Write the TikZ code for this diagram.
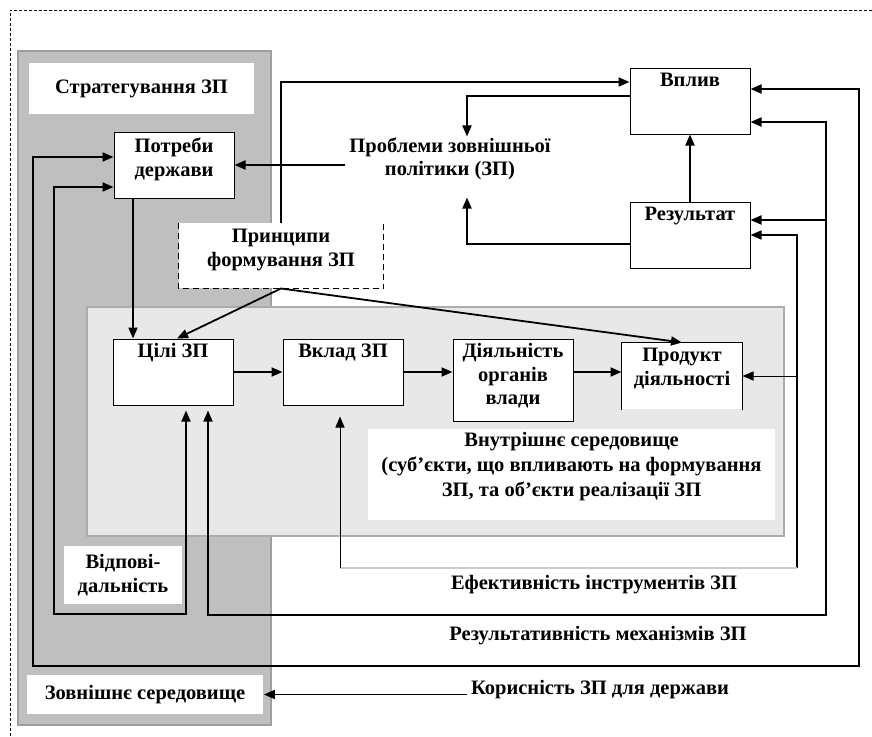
\documentclass[tikz,border=0pt]{standalone}
\usepackage{fontspec}
\setmainfont{Liberation Serif}
\usetikzlibrary{arrows.meta}

\begin{document}
\begin{tikzpicture}[->,>={Triangle[length=11pt,width=9pt]},x=1pt,y=-1pt,line width=1.8pt,
  font=\bfseries\fontsize{20.5}{23.5}\selectfont,
  panel/.style={line width=1.5pt},
  main node/.style={draw,fill=white,line width=1pt,minimum width=120pt,minimum height=66pt,align=center},
  open node/.style={main node,draw=none},
  toptext/.style 2 args={text height=#1,text depth=#2},
  plain node/.style={fill=white,align=center},
  text node/.style={align=center}]
\useasboundingbox (0,0) rectangle (872,736);
\draw[-,densely dashed,line width=0.8pt] (10,736) -- (10,10) -- (872,10);

% panels
  \node[panel,draw=gray!75,fill=gray!50,minimum width=253pt,minimum height=674pt] (stratpanel) at (144.5,388) {};
  \node[plain node,minimum width=225pt,minimum height=51pt] (strat) at (141.5,88.5) {Стратегування ЗП};
  \node[panel,draw=gray!65,fill=gray!18,minimum width=697pt,minimum height=229pt] (vnutrpanel) at (435.5,421.5) {};

% top part
  \node[main node,toptext={37.5pt}{14.8pt}] (potreby) at (174,165) {Потреби\\держави};
  \node[text node] (problemy) at (450,159) {Проблеми зовнішньої\\політики (ЗП)};
  \node[open node,minimum width=204pt,minimum height=65pt,toptext={36.5pt}{14.8pt}] (pryntsypy) at (281,255.5) {Принципи\\формування ЗП};
  \draw[-,line width=1pt,dash pattern=on 6pt off 4pt] (pryntsypy.north west) |- (pryntsypy.south east) -- (pryntsypy.north east);
  \node[main node,toptext={12pt}{40.3pt}] (vplyv) at (690,101) {Вплив};
  \node[main node,toptext={12pt}{40.3pt}] (rezultat) at (690,235) {Результат};

% inner environment
  \node[main node,toptext={12pt}{40.3pt}] (tsili) at (173,372) {Цілі ЗП};
  \node[main node,toptext={12pt}{40.3pt}] (vklad) at (343,372) {Вклад ЗП};
  \node[main node,minimum height=82pt,toptext={59pt}{9.3pt}] (diialnist) at (513,380) {Діяльність\\органів\\влади};
  \node[open node,toptext={35.5pt}{16.8pt}] (produkt) at (682,376) {Продукт\\діяльності};
  \draw[-,line width=1pt] (produkt.south west) |- (produkt.north east) -- (produkt.south east);
  \node[plain node,minimum width=407pt,minimum height=91pt,toptext={61pt}{16.3pt},
    font=\bfseries\fontsize{20.5}{25}\selectfont] (vnutr) at (571.5,474.5) {Внутрішнє середовище\\(суб’єкти, що впливають на формування\\ЗП, та об’єкти реалізації ЗП};

% bottom part
  \node[plain node,minimum width=118pt,minimum height=58pt] (vidpov) at (123,575) {Відпові-\\дальність};
  \node[plain node,minimum width=236pt,minimum height=39pt] (zovnishnie) at (145,694.5) {Зовнішнє середовище};
  \node[text node] (efekt) at (594,585) {Ефективність інструментів ЗП};
  \node[text node] (rezultatyvnist) at (598,636) {Результативність механізмів ЗП};
  \node[text node] (korysnist) at (600,690) {Корисність ЗП для держави};

% straight links
  \path
    ([xshift=-41pt]potreby.south) edge ([xshift=-40pt]tsili.north)
    (problemy.west |- potreby.east) edge (potreby.east)
    (rezultat) edge (vplyv)
    (tsili) edge (vklad)
    (vklad.east) edge (vklad.east -| diialnist.west)
    (diialnist.east |- vklad.east) edge (produkt.west |- vklad.east)
    (pryntsypy.south) edge ([xshift=4pt]tsili.north)
    (pryntsypy.south) edge (produkt.north)
    (korysnist.west |- zovnishnie.east) edge (zovnishnie.east);

% feedback
  \draw (pryntsypy.north) |- ([yshift=19pt]vplyv.west);
  \draw ([yshift=5pt]vplyv.west) -| ([xshift=17pt,yshift=-3pt]problemy.north);
  \draw ([yshift=-9pt]rezultat.west) -| ([xshift=17pt,yshift=-13pt]problemy.south);

  \coordinate (kor-a) at (859,666);
  \coordinate (kor-b) at (33,666);
  \draw[<->] ([yshift=12pt]vplyv.east) -| (kor-a) -- (kor-b) |- ([yshift=8pt]potreby.west);

  \coordinate (kor-c) at (826,615);
  \coordinate (kor-d) at (208,615);
  \coordinate (rez-in) at ([yshift=15pt]rezultat.east);
  \draw[<->] ([yshift=-21pt]vplyv.east) -| (kor-c) -- (kor-d) -- ([xshift=35pt,yshift=-5pt]tsili.south);
  \draw (kor-c |- rez-in) -- (rez-in);

  \coordinate (kor-e) at (797,568);
  \coordinate (kor-f) at (340,568);
  \draw[<-,line width=1.4pt] (rezultat.east) -| (kor-e);
  \draw[-,gray!40,line width=1.3pt] (kor-e) -- (kor-f);
  \draw[line width=1pt] (kor-f) -- ([xshift=-3pt,yshift=-11pt]vklad.south);
  \draw[line width=1pt] (kor-e |- produkt.east) -- (produkt.east);

  \coordinate (kor-g) at (54,614);
  \coordinate (kor-h) at (186,614);
  \draw[<->] ([yshift=-22pt]potreby.west) -| (kor-g) -- (kor-h) -- ([xshift=13pt,yshift=-5pt]tsili.south);

\end{tikzpicture}
\end{document}
